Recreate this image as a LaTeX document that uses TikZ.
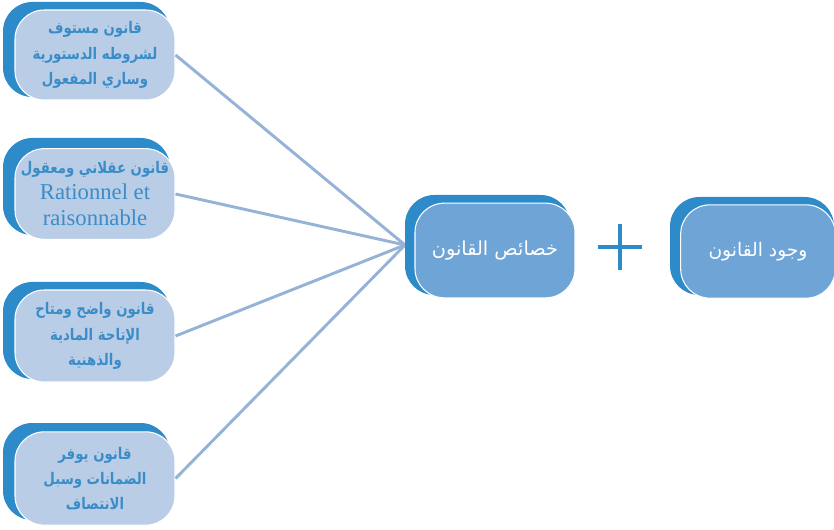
\documentclass[tikz,border=0pt]{standalone}
\usepackage{fontspec}
\TeXXeTstate=1
\newfontfamily\arabicfont[Script=Arabic]{DejaVu Sans}
\newfontfamily\arabicnarrow[Script=Arabic,FakeStretch=0.83]{DejaVu Sans}
\setmainfont{Liberation Serif}
\definecolor{boxback}{HTML}{2E8BC9}
\definecolor{boxlight}{HTML}{B9CDE6}
\definecolor{boxmid}{HTML}{6FA4D6}
\definecolor{txtblue}{HTML}{3A8DC8}
\definecolor{linkblue}{HTML}{95B3D7}
\tikzset{
  backbox/.style={fill=boxback, rounded corners=22},
  lightbox/.style={fill=boxlight, draw=white, line width=0.8pt, rounded corners=22,
    text=txtblue, align=center, inner sep=0pt},
  midbox/.style={fill=boxmid, draw=white, line width=0.8pt, rounded corners=22,
    text=white, align=center, inner sep=0pt},
  link/.style={draw=linkblue, line width=2.2pt},
  ar/.style={font=\arabicnarrow\bfseries\fontsize{12}{19}\selectfont},
  plusbar/.style={draw=boxback, line width=3pt},
}
\begin{document}
\begin{tikzpicture}[x=0.75pt,y=-0.75pt]
\useasboundingbox (0,0) rectangle (834,530);

% links meet at a hub behind the central box
\coordinate (hub) at (405,245);

% dark backing shapes
\fill[backbox] (3,2) rectangle (170,97);
\fill[backbox] (3,138) rectangle (170,235);
\fill[backbox] (3,282) rectangle (170,379);
\fill[backbox] (3,423) rectangle (170,520);
\fill[backbox] (670,197) rectangle (834,295);

% left boxes
\node[lightbox, ar, minimum width=120pt, minimum height=67.5pt] (f1) at (95,55)
  {\beginR قانون مستوف\endR\\\beginR لشروطه الدستورية\endR\\\beginR وساري المفعول\endR};
\node[lightbox, font=\fontsize{17}{20}\selectfont, minimum width=120pt, minimum height=68pt] (f2) at (95,194)
  {{\arabicnarrow\bfseries\fontsize{12}{19}\selectfont\beginR قانون عقلاني ومعقول\endR}\\[-1pt]
   Rationnel et\\raisonnable};
\node[lightbox, ar, minimum width=120pt, minimum height=69pt] (f3) at (95,336)
  {\beginR قانون واضح ومتاح\endR\\\beginR الإتاحة المادية\endR\\\beginR والذهنية\endR};
\node[lightbox, ar, minimum width=120pt, minimum height=70pt] (f4) at (95,478.5)
  {\beginR قانون يوفر\endR\\\beginR الضمانات وسبل\endR\\\beginR الانتصاف\endR};

% links
\draw[link] (f1.east) -- (hub);
\draw[link] (f2.east) -- (hub);
\draw[link] (f3.east) -- (hub);
\draw[link] (f4.east) -- (hub);

% central and right boxes
\fill[backbox] (405,195) rectangle (570,295);
\node[midbox, minimum width=120pt, minimum height=71pt,
  font=\arabicfont\fontsize{14.5}{18}\selectfont] (mid) at (495,250.5)
  {\beginR خصائص القانون\endR};
\node[midbox, minimum width=116pt, minimum height=70pt,
  font=\arabicfont\fontsize{14}{18}\selectfont] (right) at (758,251.5)
  {\beginR وجود القانون\endR};

% plus sign between the two boxes
\coordinate (plus) at (620,247);
\draw[plusbar] ([xshift=-22*0.75pt]plus) -- ([xshift=22*0.75pt]plus);
\draw[plusbar] ([yshift=23*0.75pt]plus) -- ([yshift=-23*0.75pt]plus);
\end{tikzpicture}
\end{document}
